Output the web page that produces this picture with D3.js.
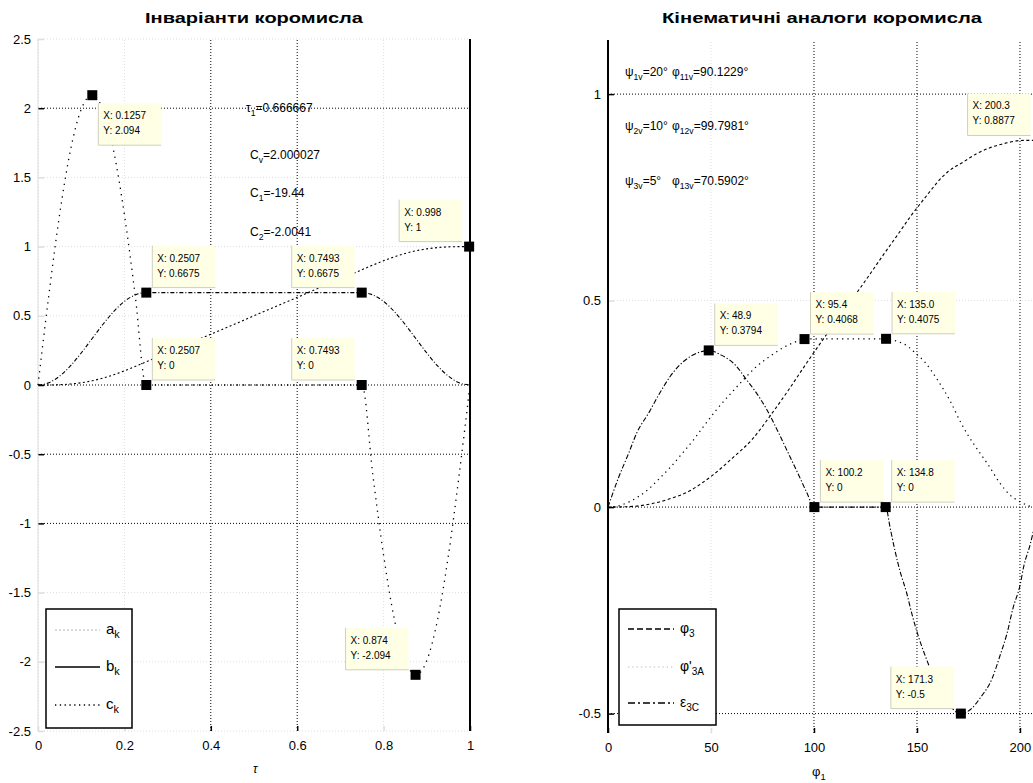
<!DOCTYPE html>
<html><head><meta charset="utf-8">
<script src="https://cdn.jsdelivr.net/npm/d3@7"></script>
<style>
body{margin:0;background:#fff;}
text{font-family:"Liberation Sans",Arial,sans-serif;}
</style></head><body>
<svg id="c" width="1033" height="783"></svg>
<script>
// ---------- DATA (left panel: invariants) ----------
const tau = [0,0.025,0.05,0.075,0.1,0.125,0.15,0.175,0.2,0.225,0.25,0.275,0.3,0.325,0.35,0.375,0.4,0.425,0.45,0.475,0.5,
  0.525,0.55,0.575,0.6,0.625,0.65,0.675,0.7,0.725,0.75,0.775,0.8,0.825,0.85,0.875,0.9,0.925,0.95,0.975,1];
const aK = [0,0.0003,0.0021,0.0071,0.0162,0.0303,0.0495,0.0737,0.1021,0.1336,0.1667,0.2,0.2333,0.2667,0.3,0.3333,0.3667,0.4,0.4333,0.4667,0.5,
  0.5333,0.5667,0.6,0.6333,0.6667,0.7,0.7333,0.7667,0.8,0.8333,0.8664,0.8979,0.9263,0.9505,0.9697,0.9838,0.9929,0.9979,0.9997,1];
const bK = [0,0.016,0.064,0.138,0.231,0.334,0.437,0.530,0.604,0.651,0.6675,0.6675,0.6675,0.6675,0.6675,0.6675,0.6675,0.6675,0.6675,0.6675,0.6675,
  0.6675,0.6675,0.6675,0.6675,0.6675,0.6675,0.6675,0.6675,0.6675,0.6675,0.651,0.604,0.530,0.437,0.334,0.231,0.138,0.064,0.016,0];
const cK = [0,0.647,1.231,1.694,1.991,2.094,1.991,1.694,1.231,0.647,0,0,0,0,0,0,0,0,0,0,0,
  0,0,0,0,0,0,0,0,0,0,-0.647,-1.231,-1.694,-1.991,-2.094,-1.991,-1.694,-1.231,-0.647,0];
const leftXTicks = [0,0.2,0.4,0.6,0.8,1];
const leftYTicks = [2.5,2,1.5,1,0.5,0,-0.5,-1,-1.5,-2,-2.5];
const leftNames = ["a","b","c"];
const leftTips = [
  {x:0.1257,y:2.094,tx:"X: 0.1257",ty:"Y: 2.094"},
  {x:0.2507,y:0.6675,tx:"X: 0.2507",ty:"Y: 0.6675"},
  {x:0.2507,y:0,tx:"X: 0.2507",ty:"Y: 0"},
  {x:0.7493,y:0.6675,tx:"X: 0.7493",ty:"Y: 0.6675"},
  {x:0.7493,y:0,tx:"X: 0.7493",ty:"Y: 0"},
  {x:0.998,y:1,tx:"X: 0.998",ty:"Y: 1"},
  {x:0.874,y:-2.094,tx:"X: 0.874",ty:"Y: -2.094"}
];

// ---------- DATA (right panel: kinematic analogues) ----------
const phiPos = [0,10,20,30,40,44.7,51,60.7,70,78.6,87,96.6,107.8,123.8,134,140,146.6,155,160,165,172.3,179,185.4,193.7,200.3,205,207.3];
const posVal = [0,0.001,0.007,0.02,0.04,0.055,0.078,0.12,0.164,0.22,0.279,0.35,0.43,0.54,0.613,0.655,0.702,0.756,0.787,0.812,0.835,0.856,0.87,0.882,0.8877,0.888,0.888];
const phiVel = [0,5,10,15,20,24.3,30,36.4,42,47.1,52.9,60.7,67,72,78.6,85,90,95.4,100.2,134.8,140,145.6,149,154,159.7,166,171.3,174.3,180,184.5,190,195,200,205,207.3];
const velVal = [0,0.003,0.012,0.026,0.045,0.066,0.095,0.132,0.166,0.2,0.237,0.281,0.315,0.34,0.365,0.386,0.398,0.4068,0.4075,0.4075,0.402,0.389,0.374,0.35,0.31,0.258,0.2045,0.178,0.135,0.103,0.06,0.03,0.013,0.002,0];
const phiAcc = [0,5,10,14,20,25,30,35,40.8,45,48.9,55,62,67,71.4,77,82.5,87.4,93,96.6,100.2,110,120,134.8,137,139.3,141.7,145,147.6,150.5,154,158,163,167,171.3,176,181,186.4,190.3,193.7,196.6,200,202,205,207.3];
const accVal = [0,0.07,0.13,0.18,0.23,0.275,0.315,0.345,0.367,0.376,0.3794,0.368,0.343,0.31,0.281,0.237,0.183,0.132,0.073,0.034,0,0,0,0,-0.051,-0.105,-0.154,-0.208,-0.26,-0.31,-0.36,-0.41,-0.46,-0.487,-0.5,-0.49,-0.46,-0.416,-0.36,-0.306,-0.245,-0.19,-0.14,-0.09,-0.04];
const rightXTicks = [0,50,100,150,200];
const rightYTicks = [1,0.5,0,-0.5];
const rightTips = [
  {x:48.9,y:0.3794,tx:"X: 48.9",ty:"Y: 0.3794"},
  {x:95.4,y:0.4068,tx:"X: 95.4",ty:"Y: 0.4068"},
  {x:135,y:0.4075,tx:"X: 135.0",ty:"Y: 0.4075"},
  {x:100.2,y:0,tx:"X: 100.2",ty:"Y: 0"},
  {x:134.8,y:0,tx:"X: 134.8",ty:"Y: 0"},
  {x:171.3,y:-0.5,tx:"X: 171.3",ty:"Y: -0.5"},
  {x:200.3,y:0.8877,tx:"X: 200.3",ty:"Y: 0.8877"}
];

// ---------- LAYOUT / STYLE ----------
const svg = d3.select("#c");
const xL = d3.scaleLinear().domain([0,1]).range([38,470]);
const yL = d3.scaleLinear().domain([-2.5,2.5]).range([731,39]);
const xR = d3.scaleLinear().domain([0,207.3]).range([608,1035]);
const yR = d3.scaleLinear().domain([-0.547,1.131]).range([733,40]);
const faint = "#dedede";
const leftFaintX = [0,0.2,0.8];
const leftFaintY = [2.5,1.5,1,0.5,-1.5,-2,-2.5];
const rightFaintX = [50];
const rightFaintY = [0.5];
const leftTipPlace = ["lr","ur","ur","ul","ul","ul","ul"];
const rightTipPlace = ["ur","ur","ur","ur","ur","ul","uc"];

function grid(g, xs, ys, xt, yt, fx, fy){
  xt.forEach(v=>{
    const f = fx.includes(v);
    g.append("line").attr("x1",xs(v)).attr("x2",xs(v)).attr("y1",ys.range()[0]).attr("y2",ys.range()[1])
      .attr("stroke",f?faint:"#000").attr("stroke-dasharray","1,2").attr("stroke-width",1);
  });
  yt.forEach(v=>{
    const f = fy.includes(v);
    g.append("line").attr("y1",ys(v)).attr("y2",ys(v)).attr("x1",xs.range()[0]).attr("x2",xs.range()[1])
      .attr("stroke",f?faint:"#000").attr("stroke-dasharray","1,2").attr("stroke-width",1);
  });
}

function axes(g, xs, ys, xt, yt, fx, fy, fmtX, fmtY){
  const ax = g.append("g").attr("transform",`translate(0,${ys.range()[0]})`)
    .call(d3.axisBottom(xs).tickValues(xt).tickSize(-5).tickPadding(10).tickFormat(fmtX));
  const ay = g.append("g").attr("transform",`translate(${xs.range()[0]},0)`)
    .call(d3.axisLeft(ys).tickValues(yt).tickSize(-6).tickPadding(7).tickFormat(fmtY));
  [ax,ay].forEach(a=>{
    a.select(".domain").remove();
    a.selectAll("text").attr("font-size",13).attr("fill","#000").style("font-family","Liberation Sans, Arial, sans-serif");
  });
  ax.selectAll(".tick line").attr("stroke",d=>fx.includes(d)?faint:"#000").attr("stroke-width",1.5);
  ay.selectAll(".tick line").attr("stroke",d=>fy.includes(d)?faint:"#000").attr("stroke-width",1.5);
}

function series(g, xs, ys, X, Y, dash, w){
  const line = d3.line().x((d,i)=>xs(X[i])).y((d,i)=>ys(d)).curve(d3.curveMonotoneX);
  g.append("path").attr("d",line(Y)).attr("fill","none").attr("stroke","#000")
    .attr("stroke-width",w||1.2).attr("stroke-dasharray",dash);
}

function tips(g, xs, ys, list, place){
  list.forEach((t,i)=>{
    const px = xs(t.x), py = ys(t.y);
    const w = 63, h = 42;
    const p = place[i];
    const bx = p[1]==="r" ? px+6 : (p[1]==="c" ? px-53 : px-70);
    const by = p[0]==="u" ? py-47 : py+8;
    g.append("rect").attr("x",bx).attr("y",by).attr("width",w).attr("height",h).attr("fill","#ffffe6");
    g.append("line").attr("x1",bx).attr("x2",bx).attr("y1",by).attr("y2",by+h).attr("stroke","#cfcfc0");
    g.append("line").attr("x1",bx).attr("x2",bx+w).attr("y1",by+h).attr("y2",by+h).attr("stroke","#cfcfc0");
    g.append("text").attr("x",bx+5).attr("y",by+16).attr("font-size",10).text(t.tx);
    g.append("text").attr("x",bx+5).attr("y",by+31).attr("font-size",10).text(t.ty);
    if(p !== "uc")
      g.append("rect").attr("x",px-5).attr("y",py-5).attr("width",10).attr("height",10).attr("fill","#000");
  });
}

function sub(g, x, y, parts, size){
  const t = g.append("text").attr("x",x).attr("y",y).attr("font-size",size);
  parts.forEach(p=>{
    const s = t.append("tspan").text(p[0]);
    if(p[1]==="sub") s.attr("font-size",size*0.72).attr("dy",4);
    else if(p[1]==="back") s.attr("dy",-4);
  });
  return t;
}

// ---------- LEFT PANEL ----------
const gl = svg.append("g");
grid(gl, xL, yL, leftXTicks, leftYTicks, leftFaintX, leftFaintY);
axes(gl, xL, yL, leftXTicks, leftYTicks, leftFaintX, leftFaintY, d=>String(d), d=>String(d));
gl.append("line").attr("x1",xL(1)).attr("x2",xL(1)).attr("y1",yL(2.5)).attr("y2",yL(-2.5)).attr("stroke","#000").attr("stroke-width",2);
gl.append("line").attr("x1",xL(0)).attr("x2",xL(0)).attr("y1",yL(2.5)).attr("y2",yL(-2.5)).attr("stroke",faint).attr("stroke-width",1);
series(gl, xL, yL, tau, aK, "2,2.5", 1.1);
series(gl, xL, yL, tau, bK, "4,2,1,2", 1.1);
series(gl, xL, yL, tau, cK, "1.3,5", 1.3);
tips(gl, xL, yL, leftTips, leftTipPlace);
gl.append("text").attr("x",254).attr("y",23).attr("text-anchor","middle").attr("font-size",15).attr("font-weight","bold")
  .attr("textLength",218).attr("lengthAdjust","spacingAndGlyphs").text("Інваріанти коромисла");
gl.append("text").attr("x",253).attr("y",773).attr("font-size",12).attr("font-style","italic").text("τ");
// annotations
sub(gl, 246, 112, [["τ"],["1","sub"],["=0.666667","back"]], 12);
sub(gl, 250, 159, [["C"],["v","sub"],["=2.000027","back"]], 12);
sub(gl, 250, 197, [["C"],["1","sub"],["=-19.44","back"]], 12);
sub(gl, 250, 236, [["C"],["2","sub"],["=-2.0041","back"]], 12);
// legend
const lgL = gl.append("g");
lgL.append("rect").attr("x",46).attr("y",609).attr("width",86).attr("height",119).attr("fill","#fff").attr("stroke","#000").attr("stroke-width",1.5);
const legLStyles = [{dash:"2,2",col:"#d0d0d0"},{dash:null,col:"#000"},{dash:"1.3,3.5",col:"#000"}];
leftNames.forEach((n,i)=>{
  const yy = [630,667,705][i];
  lgL.append("line").attr("x1",55).attr("x2",100).attr("y1",yy).attr("y2",yy).attr("stroke",legLStyles[i].col)
    .attr("stroke-width",1.3).attr("stroke-dasharray",legLStyles[i].dash);
  sub(lgL, 106, yy+4, [[n],["k","sub"]], 15);
});

// ---------- RIGHT PANEL ----------
const gr = svg.append("g");
grid(gr, xR, yR, rightXTicks, rightYTicks, rightFaintX, rightFaintY);
axes(gr, xR, yR, rightXTicks, rightYTicks, rightFaintX, rightFaintY, d=>String(d), d=>String(d));
gr.append("line").attr("x1",xR(0)).attr("x2",xR(0)).attr("y1",yR.range()[1]).attr("y2",yR.range()[0]).attr("stroke","#000").attr("stroke-width",2);
series(gr, xR, yR, phiPos, posVal, "3,2.5", 1.1);
series(gr, xR, yR, phiVel, velVal, "1.3,4", 1.2);
series(gr, xR, yR, phiAcc, accVal, "5,2,1.3,2", 1.1);
tips(gr, xR, yR, rightTips, rightTipPlace);
gr.append("text").attr("x",822).attr("y",23).attr("text-anchor","middle").attr("font-size",15).attr("font-weight","bold")
  .attr("textLength",320).attr("lengthAdjust","spacingAndGlyphs").text("Кінематичні аналоги коромисла");
sub(gr, 812, 776, [["φ"],["1","sub"]], 13);
// annotations
const annRows = [[76,"1","20°","11","90.1229°"],[130,"2","10°","12","99.7981°"],[185,"3","5°","13","70.5902°"]];
annRows.forEach(r=>{
  sub(gr, 625, r[0], [["ψ"],[r[1]+"v","sub"],["="+r[2],"back"]], 12);
  sub(gr, 672, r[0], [["φ"],[r[3]+"v","sub"],["="+r[4],"back"]], 12);
});
// legend
const lgR = gr.append("g");
lgR.append("rect").attr("x",619).attr("y",609).attr("width",97).attr("height",116).attr("fill","#fff").attr("stroke","#000").attr("stroke-width",1.5);
const legR = [{y:629,dash:"6,3",col:"#000",lab:[["φ"],["3","sub"]]},
              {y:667,dash:"1.3,3",col:"#d0d0d0",lab:[["φ'"],["3A","sub"]]},
              {y:703,dash:"7,3,2,3",col:"#000",lab:[["ε"],["3C","sub"]]}];
legR.forEach(l=>{
  lgR.append("line").attr("x1",628).attr("x2",674).attr("y1",l.y).attr("y2",l.y).attr("stroke",l.col)
    .attr("stroke-width",1.3).attr("stroke-dasharray",l.dash);
  sub(lgR, 680, l.y+4, l.lab, 14);
});
</script>
</body></html>
